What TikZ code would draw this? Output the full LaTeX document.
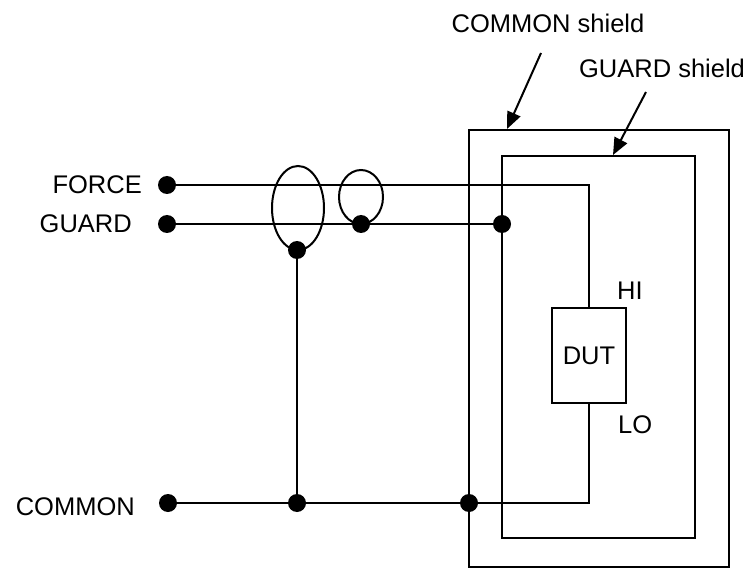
\documentclass[tikz,border=0pt]{standalone}
\usepackage{fontspec}
\setmainfont{Liberation Sans}
\usetikzlibrary{arrows.meta}
\begin{document}
\begin{tikzpicture}[x=1pt,y=-1pt,
  wire/.style={line width=2pt},
  dot/.style={circle,fill=black,inner sep=0pt,minimum size=18pt},
  lbl/.style={inner sep=0pt,font=\fontsize{25.5}{30}\selectfont},
  pointer/.style={line width=2pt,-{Triangle[length=17pt,width=14pt]}},
  dutbox/.style={draw,line width=2pt,inner sep=0pt,minimum width=74pt,minimum height=95pt,font=\fontsize{25.5}{30}\selectfont}]
\useasboundingbox (0,0) rectangle (752,569);
% shields
\draw[wire] (469,130) rectangle (729,567);
\draw[wire] (502,156) rectangle (695,538);
% points
\coordinate (pF) at (167,185);
\coordinate (pG) at (167,224);
\coordinate (pC) at (168,503);
\coordinate (jE) at (297,250);
\coordinate (jS) at (361,224);
\coordinate (jGs) at (502,224);
\coordinate (jC1) at (297,503);
\coordinate (jC2) at (469,503);
\coordinate (hiTurn) at (589,185);
\coordinate (loTurn) at (589,503);
\coordinate (a1s) at (541,53);
\coordinate (a1e) at (507,129);
\coordinate (a2s) at (646,92);
\coordinate (a2e) at (613,155);
% DUT
\node[dutbox] (dut) at (589,355.5) {DUT};
% wires
\draw[wire] (pF) -- (hiTurn) -- (dut.north);
\draw[wire] (pG) -- (jGs);
\draw[wire] (pC) -- (loTurn) -- (dut.south);
\draw[wire] (jE) -- (jC1);
% loops
\draw[wire] (298,208) ellipse [x radius=26pt, y radius=42pt];
\draw[wire] (361,197) ellipse [x radius=22pt, y radius=27pt];
% dots
\node[dot] (forceDot) at (pF) {};
\node[dot] (guardDot) at (pG) {};
\node[dot] (commonDot) at (pC) {};
\node[dot] (loopDot) at (jE) {};
\node[dot] (smallLoopDot) at (jS) {};
\node[dot] (guardShieldDot) at (jGs) {};
\node[dot] (commonJDot) at (jC1) {};
\node[dot] (commonShieldDot) at (jC2) {};
% pointers
\draw[pointer] (a1s) -- (a1e);
\draw[pointer] (a2s) -- (a2e);
% labels
\node[lbl,anchor=base east] (forceLbl) at (142,194) {FORCE};
\node[lbl,anchor=base east] (guardLbl) at (132,233) {GUARD};
\node[lbl,anchor=base east] (commonLbl) at (135,515) {COMMON};
\node[lbl,anchor=base] (cshLbl) at (548,33) {COMMON shield};
\node[lbl,anchor=base] (gshLbl) at (662,78) {GUARD shield};
\node[lbl,anchor=base west] (hiLbl) at (617,299) {HI};
\node[lbl,anchor=base west] (loLbl) at (618,433) {LO};
\end{tikzpicture}
\end{document}
